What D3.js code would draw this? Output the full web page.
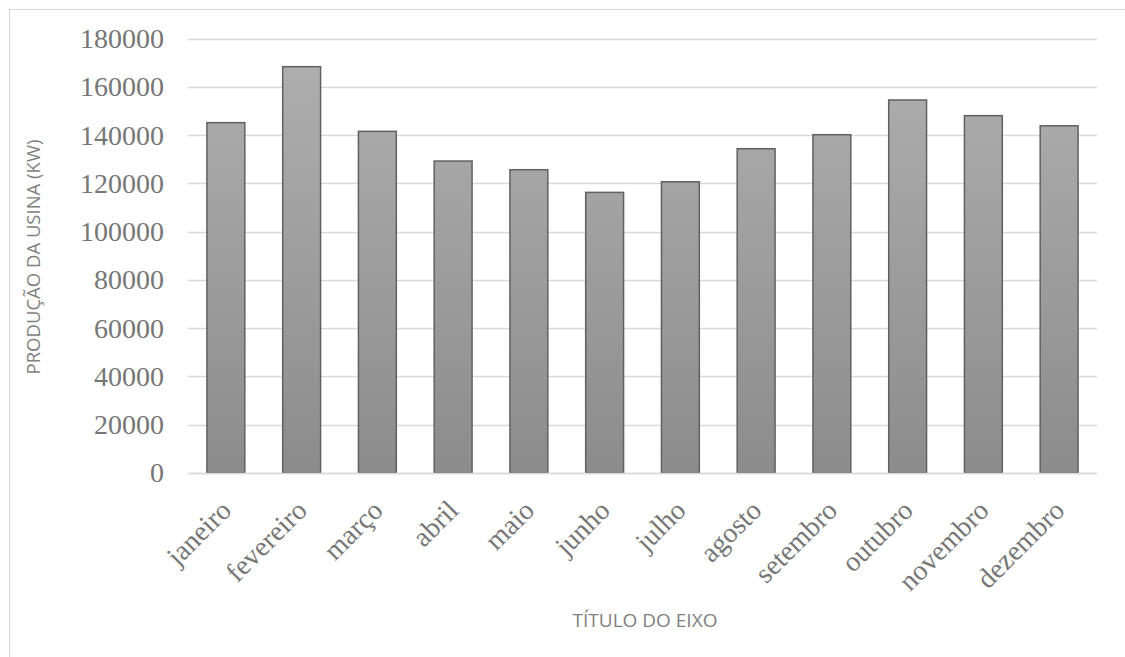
<!DOCTYPE html>
<html>
<head>
<meta charset="utf-8">
<script src="https://cdn.jsdelivr.net/npm/d3@7"></script>
<style>
  html, body { margin: 0; padding: 0; background: #fff; }
  svg { display: block; }
</style>
</head>
<body>
<svg id="chart" width="1125" height="657"></svg>
<script>
// Monthly plant output
const months = ["janeiro", "fevereiro", "março", "abril", "maio", "junho",
                "julho", "agosto", "setembro", "outubro", "novembro", "dezembro"];
const production = [145200, 168400, 141600, 129300, 125700, 116300,
                    120700, 134400, 140200, 154600, 148100, 143900];
const yTicks = [0, 20000, 40000, 60000, 80000, 100000, 120000, 140000, 160000, 180000];
const yTitle = "PRODUÇÃO DA USINA (KW)";
const xTitle = "TÍTULO DO EIXO";

const svg = d3.select("#chart");
const plot = { left: 188, right: 1097, top: 38.7, bottom: 473 };

// chart frame (only top and left edges fall inside the view)
svg.append("rect")
  .attr("x", 9.5).attr("y", 9.5)
  .attr("width", 1200).attr("height", 700)
  .attr("fill", "none").attr("stroke", "#d9d9d9").attr("stroke-width", 1);

const x = d3.scaleBand()
  .domain(months)
  .range([plot.left, plot.right])
  .paddingInner(0.5)
  .paddingOuter(0.25);

const y = d3.scaleLinear()
  .domain([0, 180000])
  .range([plot.bottom, plot.top]);

// bar fill gradient
const defs = svg.append("defs");
const grad = defs.append("linearGradient")
  .attr("id", "barFill")
  .attr("gradientUnits", "userSpaceOnUse")
  .attr("x1", 0).attr("y1", y(180000))
  .attr("x2", 0).attr("y2", y(0));
grad.append("stop").attr("offset", "0%").attr("stop-color", "#b0b0b0");
grad.append("stop").attr("offset", "100%").attr("stop-color", "#8c8c8c");

// horizontal gridlines
svg.append("g")
  .selectAll("line")
  .data(yTicks)
  .join("line")
  .attr("x1", plot.left).attr("x2", plot.right)
  .attr("y1", d => Math.round(y(d)) + 0.5)
  .attr("y2", d => Math.round(y(d)) + 0.5)
  .attr("stroke", "#d9d9d9")
  .attr("stroke-width", 1.5);

// y axis labels
const yAxis = d3.axisLeft(y).tickValues(yTicks).tickSize(0).tickPadding(24).tickFormat(d3.format("d"));
svg.append("g")
  .attr("transform", `translate(${plot.left},0)`)
  .call(yAxis)
  .call(g => g.select(".domain").remove())
  .selectAll("text")
  .attr("font-family", "'Liberation Serif', 'Times New Roman', serif")
  .attr("font-size", 28)
  .attr("fill", "#767676");

// bars
svg.append("g")
  .selectAll("rect")
  .data(months.map((m, i) => ({ m, v: production[i] })))
  .join("rect")
  .attr("x", d => x(d.m))
  .attr("y", d => y(d.v))
  .attr("width", x.bandwidth())
  .attr("height", d => y(0) - y(d.v))
  .attr("fill", "url(#barFill)")
  .attr("stroke", "#606060")
  .attr("stroke-width", 1.5);

// x axis baseline
svg.append("line")
  .attr("x1", plot.left).attr("x2", plot.right)
  .attr("y1", y(0) + 0.5).attr("y2", y(0) + 0.5)
  .attr("stroke", "#d9d9d9").attr("stroke-width", 1.5);

// category labels, rotated
const xAxis = d3.axisBottom(x).tickSize(0).tickPadding(0);
svg.append("g")
  .attr("transform", `translate(0,${plot.bottom})`)
  .call(xAxis)
  .call(g => g.select(".domain").remove())
  .selectAll("text")
  .attr("font-family", "'Liberation Serif', 'Times New Roman', serif")
  .attr("font-size", 28)
  .attr("fill", "#767676")
  .attr("text-anchor", "end")
  .attr("dy", null)
  .attr("y", 0)
  .attr("transform", "translate(7,39) rotate(-45)");

// axis titles
svg.append("text")
  .attr("transform", `translate(40,257) rotate(-90)`)
  .attr("text-anchor", "middle")
  .attr("font-family", "'Open Sans', 'Noto Sans', sans-serif")
  .attr("font-size", 18.5)
  .attr("fill", "#7f7f7f")
  .text(yTitle);

svg.append("text")
  .attr("x", 645).attr("y", 627)
  .attr("text-anchor", "middle")
  .attr("font-family", "'Open Sans', 'Noto Sans', sans-serif")
  .attr("font-size", 19)
  .attr("fill", "#7f7f7f")
  .text(xTitle);
</script>
</body>
</html>
